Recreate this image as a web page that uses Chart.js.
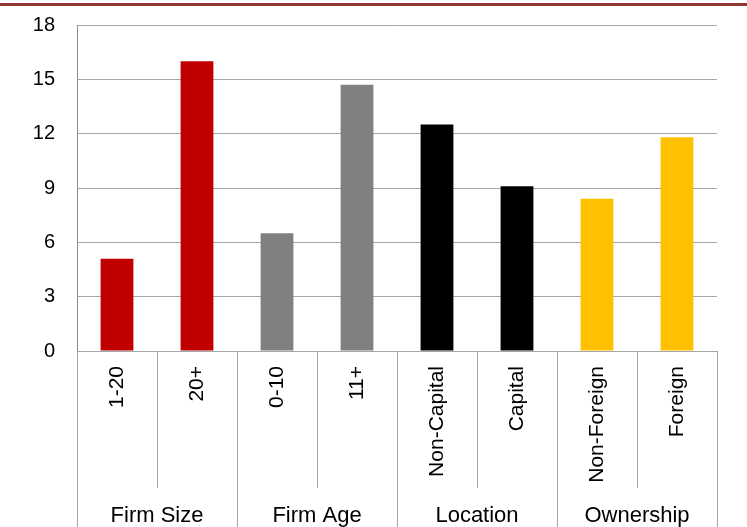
<!DOCTYPE html>
<html>
<head>
<meta charset="utf-8">
<script src="https://cdn.jsdelivr.net/npm/chart.js@4.4.0/dist/chart.umd.min.js"></script>
<style>
  html, body { margin: 0; padding: 0; background: #ffffff; }
  #wrap { position: relative; width: 747px; height: 527px; overflow: hidden; }
  #topline { position: absolute; left: 0; top: 3px; width: 747px; height: 3px; background: #963634; }
  canvas { position: absolute; left: 0; top: 0; }
</style>
</head>
<body>
<div id="wrap">
  <canvas id="c" width="747" height="527"></canvas>
  <div id="topline"></div>
</div>
<script>
// ---- data ----
const categories = ['1-20', '20+', '0-10', '11+', 'Non-Capital', 'Capital', 'Non-Foreign', 'Foreign'];
const groups = ['Firm Size', 'Firm Age', 'Location', 'Ownership'];
const values = [5.1, 16.0, 6.5, 14.7, 12.5, 9.1, 8.4, 11.8];
const groupColors = ['#C00000', '#808080', '#000000', '#FFC000'];
const groupOfCategory = [0, 0, 1, 1, 2, 2, 3, 3];
const yTicks = [0, 3, 6, 9, 12, 15, 18];

const barColors = groupOfCategory.map(g => groupColors[g]);
const FONT = 'Liberation Sans, Arial, Helvetica, sans-serif';
const LINE = '#a6a6a6';

new Chart(document.getElementById('c'), {
  type: 'bar',
  data: {
    labels: categories,
    datasets: [{
      data: values,
      backgroundColor: barColors,
      borderWidth: 0,
      categoryPercentage: 1.0,
      barPercentage: 0.41
    }]
  },
  options: {
    responsive: false,
    animation: false,
    devicePixelRatio: 1,
    layout: { padding: { top: 25, right: 30, left: 0, bottom: 0 } },
    plugins: { legend: { display: false }, tooltip: { enabled: false }, title: { display: false } },
    scales: {
      y: {
        min: 0, max: 18,
        afterBuildTicks: s => { s.ticks = yTicks.map(v => ({ value: v })); },
        afterFit: s => { s.width = 77; s.paddingTop = 0; s.paddingBottom = 0; },
        grid: { color: LINE, lineWidth: 1, drawTicks: false },
        border: { display: true, color: '#8c8c8c', width: 1 },
        ticks: { color: '#000000', padding: 22, font: { family: FONT, size: 20 } }
      },
      x: {
        type: 'category',
        offset: true,
        afterFit: s => { s.height = 137; },
        grid: { offset: true, drawOnChartArea: false, drawTicks: true, tickLength: 137, color: LINE, lineWidth: 1 },
        border: { display: true, color: LINE, width: 1 },
        ticks: {
          color: '#000000', autoSkip: false, minRotation: 90, maxRotation: 90,
          padding: -122, font: { family: FONT, size: 21 }
        }
      },
      x2: {
        type: 'category',
        position: 'bottom',
        labels: groups,
        offset: true,
        afterFit: s => { s.height = 39; },
        grid: { offset: true, drawOnChartArea: false, drawTicks: true, tickLength: 39, color: LINE, lineWidth: 1 },
        border: { display: false },
        ticks: { color: '#000000', autoSkip: false, maxRotation: 0, padding: -24, font: { family: FONT, size: 22 } }
      }
    }
  }
});
</script>
</body>
</html>
